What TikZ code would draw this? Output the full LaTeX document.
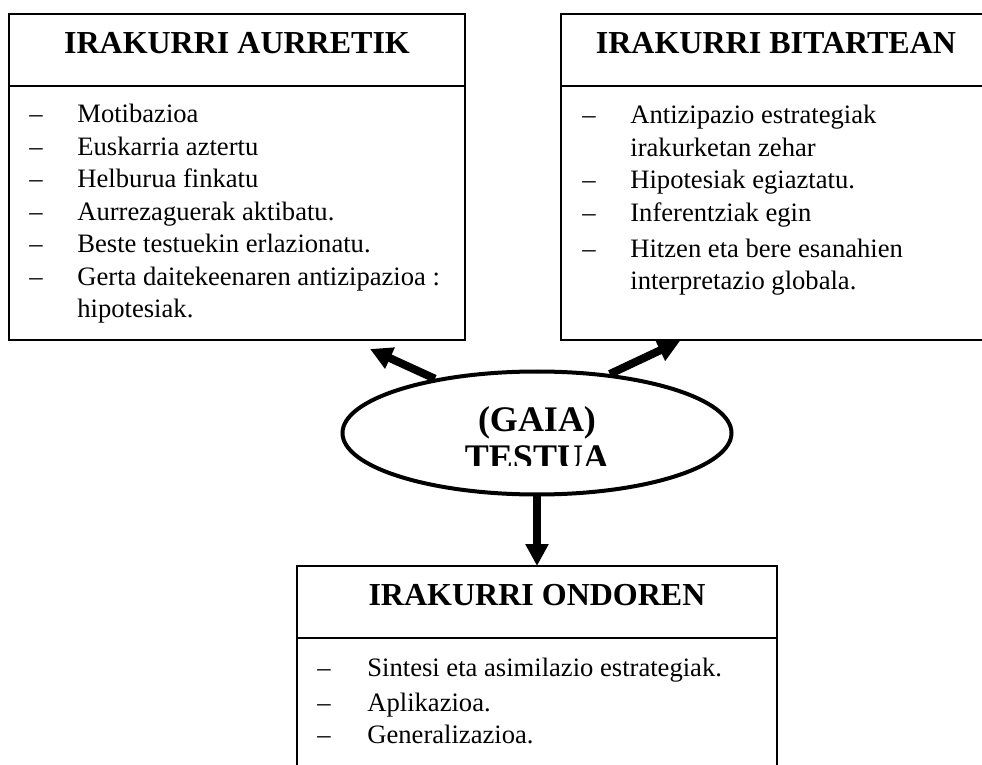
\documentclass[tikz,border=0pt]{standalone}
\usepackage{fontspec}
\setmainfont{Liberation Serif}
\usetikzlibrary{shapes.geometric, arrows.meta}
\tikzset{
  stage/.style     = {shape=rectangle, draw, line width=1pt,
                      inner sep=0pt, outer sep=0pt},
  heading/.style   = {font=\fontsize{16pt}{19pt}\selectfont\bfseries,
                      inner sep=0pt},
  items/.style     = {font=\fontsize{13.3pt}{16.25pt}\selectfont,
                      anchor=base west, inner sep=0pt},
  topic/.style     = {shape=ellipse, draw, line width=2pt,
                      minimum width=194.5pt, minimum height=61.5pt,
                      inner sep=0pt},
  topictext/.style = {font=\fontsize{18pt}{19pt}\selectfont\bfseries,
                      anchor=base, inner sep=0pt},
  link/.style      = {line width=4pt, -{Triangle[length=11pt, width=11pt]}}
}

\begin{document}
\begin{tikzpicture}[x=0.5pt, y=-0.5pt]
  \useasboundingbox (0,0) rectangle (982,765);
  \clip (0,0) rectangle (982,765);

  % the three boxes
  \node [stage, minimum width=228pt, minimum height=163pt] (before) at (237,177) {};
  \node [stage, minimum width=215pt, minimum height=163pt] (during) at (776,177) {};
  \node [stage, minimum width=240pt, minimum height=132pt] (after)  at (537,698) {};
  \draw [line width=1pt] (before.north west) ++(0,72) -- ++(456,0);
  \draw [line width=1pt] (during.north west) ++(0,72) -- ++(430,0);
  \draw [line width=1pt] (after.north west)  ++(0,72) -- ++(480,0);

  \node [heading] (beforetitle) at (237,43)  {IRAKURRI AURRETIK};
  \node [heading] (duringtitle) at (776,43)  {IRAKURRI BITARTEAN};
  \node [heading] (aftertitle)  at (537,595) {IRAKURRI ONDOREN};

  \node [items] (beforelist) at (29,123) {\begin{tabular}[t]{@{}p{24pt}@{}l@{}}
    -- & Motibazioa\\
    -- & Euskarria aztertu\\
    -- & Helburua finkatu\\
    -- & Aurrezaguerak aktibatu.\\
    -- & Beste testuekin erlazionatu.\\
    -- & Gerta daitekeenaren antizipazioa :\\
       & hipotesiak.
  \end{tabular}};
  \node [items] (duringlist) at (582,124) {\begin{tabular}[t]{@{}p{24pt}@{}l@{}}
    -- & Antizipazio estrategiak\\
       & irakurketan zehar\\
    -- & Hipotesiak egiaztatu.\\
    -- & Inferentziak egin\\[1.75pt]
    -- & Hitzen eta bere esanahien\\
       & interpretazio globala.
  \end{tabular}};
  \node [items] (afterlist) at (317,676) {\begin{tabular}[t]{@{}p{25pt}@{}l@{}}
    -- & Sintesi eta asimilazio estrategiak.\\[1.25pt]
    -- & Aplikazioa.\\
    -- & Generalizazioa.
  \end{tabular}};

  % the text in the middle
  \node [topic] (topic) at (537,433) {};
  \node [topictext] (gaia) at (537,431) {(GAIA)};
  \begin{scope}
    \clip (343,372) rectangle (732,466);
    \node [topictext] (testua) at (537,470) {TESTUA};
  \end{scope}

  \coordinate (beforetip) at (370,349);
  \coordinate (duringtip) at (680,341);
  \draw [link] (topic.152) -- (beforetip);
  \draw [link] (topic.39)  -- (duringtip);
  \draw [link] (topic.south) -- (after.north);
\end{tikzpicture}
\end{document}
